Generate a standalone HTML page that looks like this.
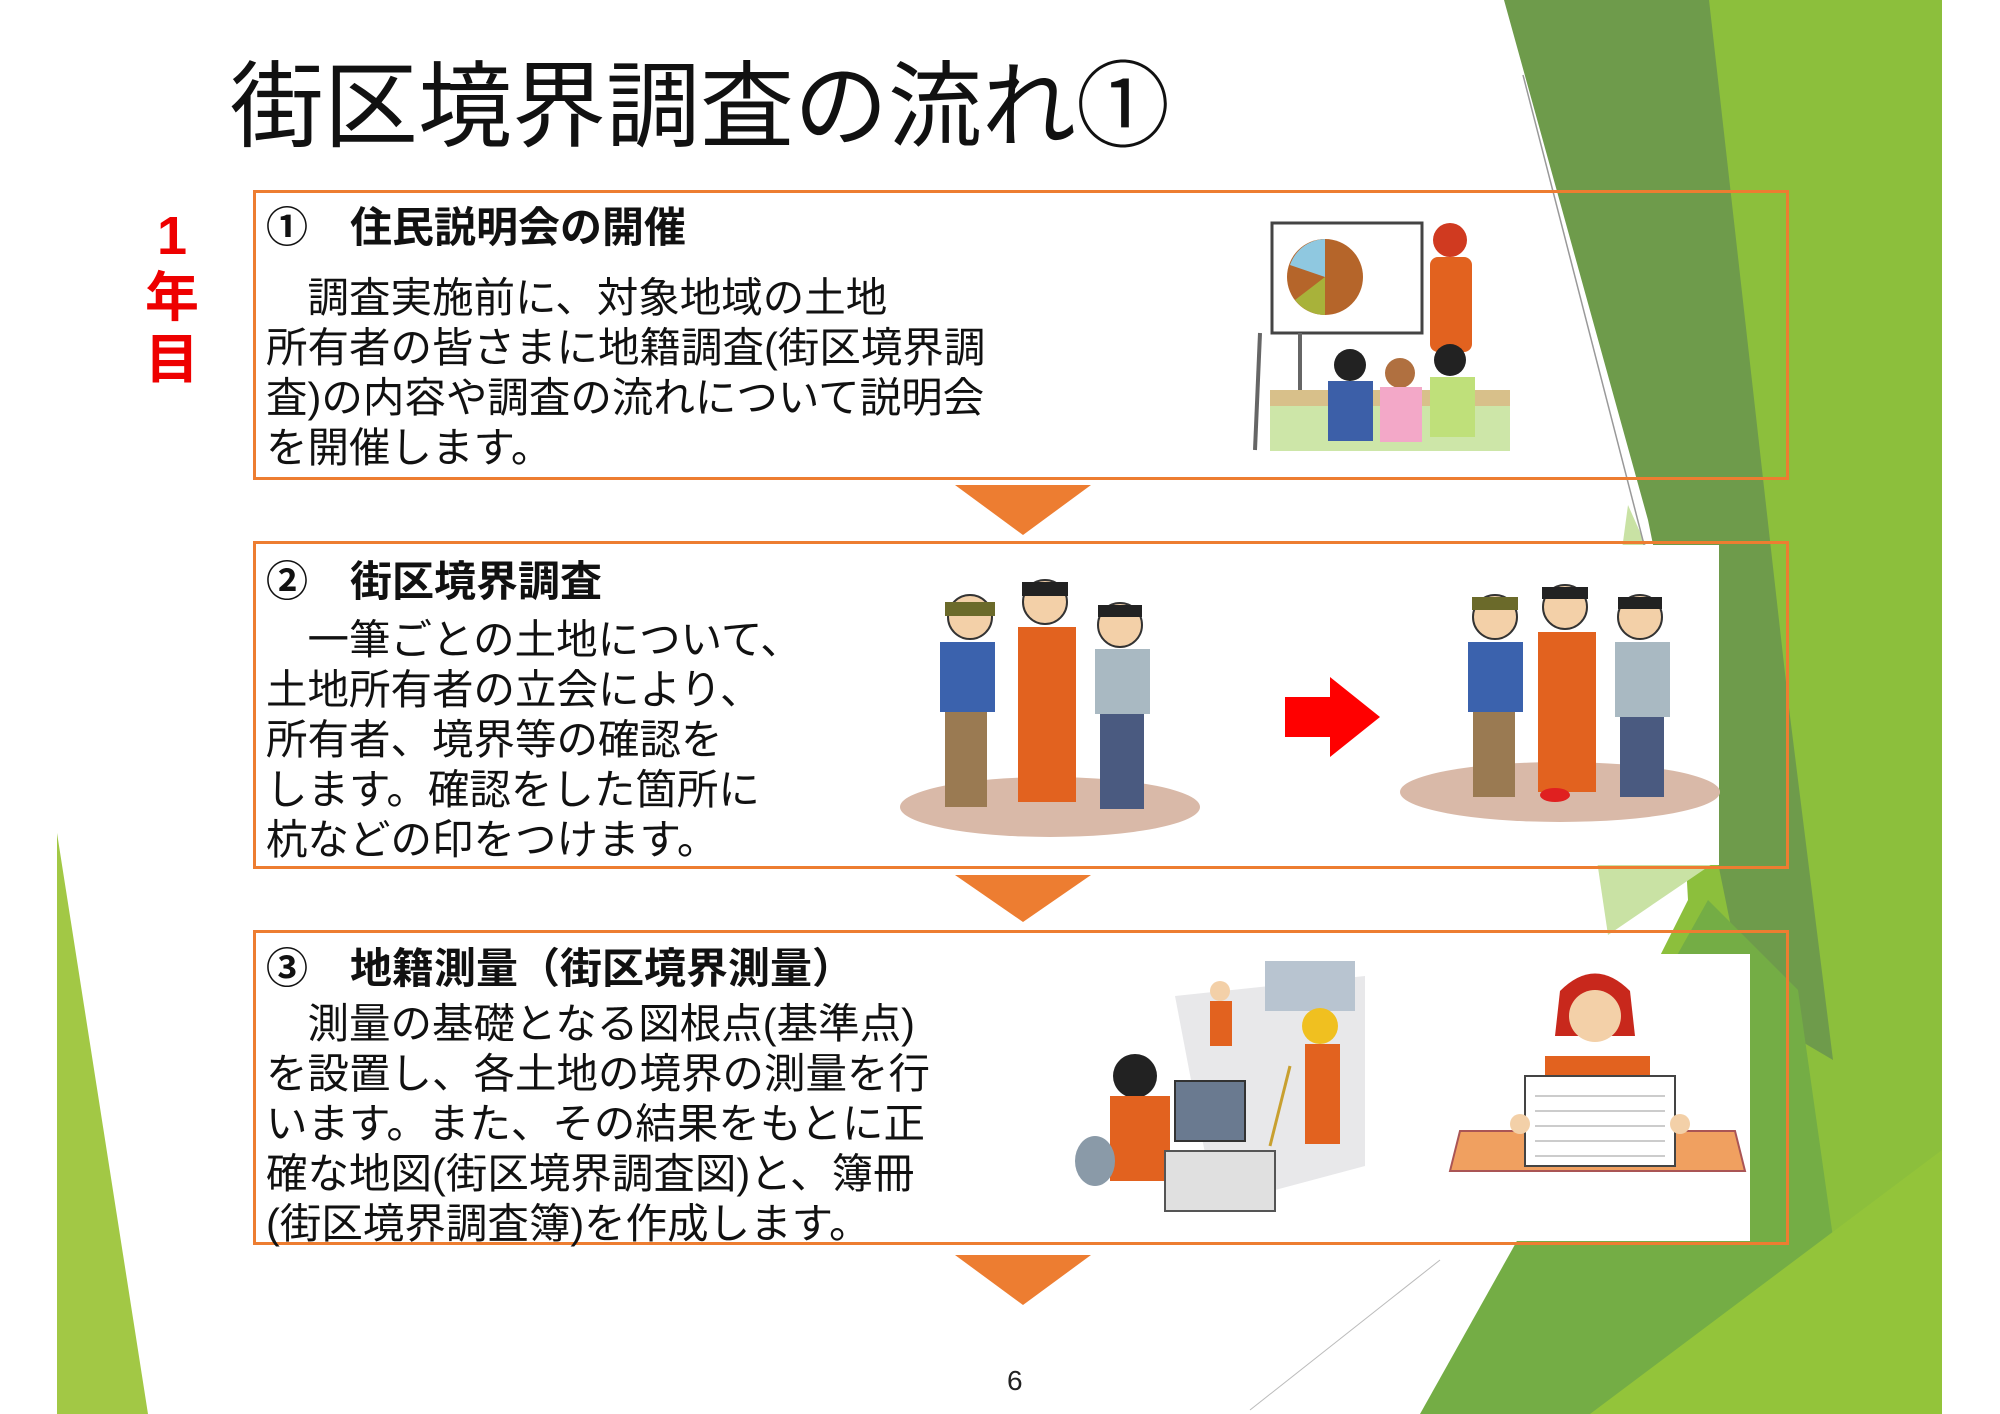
<!DOCTYPE html>
<html><head><meta charset="utf-8">
<style>
html,body{margin:0;padding:0;}
body{width:2000px;height:1414px;position:relative;overflow:hidden;background:#fff;font-family:"Liberation Sans","Noto Sans CJK JP",sans-serif;}
.a{position:absolute;white-space:nowrap;}
.box{position:absolute;border:3px solid #ed7d31;box-sizing:border-box;}
.h{position:absolute;font-size:42px;font-weight:bold;color:#111;line-height:1;}
.t{position:absolute;font-size:41.5px;color:#111;line-height:50px;white-space:nowrap;}
</style></head><body>
<svg class="a" style="left:0;top:0" width="2000" height="1414">
  <polygon points="1638,0 1942,0 1942,1414 1430,1414 1688,900" fill="#8cbf3c"/>
  <polygon points="1504,0 1709,0 1788,700 1833,1060 1748,1010 1648,520" fill="#6e9b4b"/>
  <polygon points="1628,505 1688,640 1718,860 1608,935 1588,800" fill="#c9e2a4"/>
  <polygon points="1420,1414 1708,900 1798,990 1858,1414" fill="#74ad45"/>
  <polygon points="1590,1414 1942,1150 1942,1414" fill="#93c43a"/>
  <polygon points="57,833 148,1414 57,1414" fill="#a2c845"/>
  <line x1="1523" y1="75" x2="1648" y2="560" stroke="#999" stroke-width="1.5"/>
  <line x1="1648" y1="560" x2="1678" y2="760" stroke="#999" stroke-width="1"/>
  <line x1="1250" y1="1410" x2="1440" y2="1260" stroke="#bbb" stroke-width="1"/>
</svg>

<div class="a" style="left:230px;top:60px;font-size:94px;color:#111;line-height:1;">街区境界調査の流れ①</div>
<div class="a" style="left:145px;top:205px;font-size:54px;font-weight:bold;color:#e00;line-height:62px;text-align:center;width:54px;white-space:normal;">1<br>年<br>目</div>

<!-- Box 1 -->
<div class="box" style="left:253px;top:190px;width:1536px;height:290px;"></div>
<div class="h" style="left:266px;top:207px;">①　住民説明会の開催</div>
<div class="t" style="left:266px;top:273px;">　調査実施前に、対象地域の土地<br>所有者の皆さまに地籍調査(街区境界調<br>査)の内容や調査の流れについて説明会<br>を開催します。</div>
<svg class="a" style="left:1250px;top:215px" width="280" height="245">
  <rect x="22" y="8" width="150" height="110" fill="#fff" stroke="#444" stroke-width="3"/>
  <circle cx="75" cy="62" r="38" fill="#b5652a"/><path d="M75 62 L40 50 A38 38 0 0 1 75 24Z" fill="#8fc8e0"/><path d="M75 62 L75 100 A38 38 0 0 1 45 85Z" fill="#a8b23a"/>
  <line x1="10" y1="118" x2="5" y2="235" stroke="#666" stroke-width="4"/><line x1="50" y1="118" x2="50" y2="200" stroke="#666" stroke-width="4"/>
  <circle cx="200" cy="25" r="17" fill="#d03a20"/><rect x="180" y="42" width="42" height="95" rx="8" fill="#e2621f"/>
  <rect x="20" y="175" width="240" height="16" fill="#d8c08a"/><rect x="20" y="191" width="240" height="45" fill="#cde6a8"/>
  <circle cx="100" cy="150" r="16" fill="#222"/><rect x="78" y="166" width="45" height="60" fill="#3c5fa8"/>
  <circle cx="150" cy="158" r="15" fill="#b07040"/><rect x="130" y="172" width="42" height="55" fill="#f3a8c8"/>
  <circle cx="200" cy="145" r="16" fill="#222"/><rect x="180" y="162" width="45" height="60" fill="#bfe07a"/>
</svg>

<svg class="a" style="left:955px;top:485px" width="136" height="50"><polygon points="0,0 136,0 68,50" fill="#ed7d31"/></svg>

<!-- Box 2 -->
<div class="box" style="left:253px;top:541px;width:1536px;height:328px;"></div>
<div class="a" style="left:899px;top:545px;width:820px;height:320px;background:#fff;"></div>
<div class="h" style="left:266px;top:561px;">②　街区境界調査</div>
<div class="t" style="left:266px;top:615px;">　一筆ごとの土地について、<br>土地所有者の立会により、<br>所有者、境界等の確認を<br>します。確認をした箇所に<br>杭などの印をつけます。</div>
<svg class="a" style="left:900px;top:557px" width="830" height="300">
  <ellipse cx="150" cy="250" rx="150" ry="30" fill="#d9b9a8"/>
  <ellipse cx="660" cy="235" rx="160" ry="30" fill="#d9b9a8"/>
  <g>
   <circle cx="70" cy="60" r="22" fill="#f3d0a8" stroke="#333" stroke-width="2"/><rect x="45" y="45" width="50" height="14" fill="#6b6a2a"/>
   <rect x="40" y="85" width="55" height="70" fill="#3b62ad"/><rect x="45" y="155" width="42" height="95" fill="#9a7a52"/>
   <circle cx="145" cy="45" r="22" fill="#f3d0a8" stroke="#333" stroke-width="2"/><rect x="122" y="25" width="46" height="14" fill="#222"/>
   <rect x="118" y="70" width="58" height="175" fill="#e2621f"/>
   <circle cx="220" cy="68" r="22" fill="#f3d0a8" stroke="#333" stroke-width="2"/><rect x="198" y="48" width="44" height="12" fill="#222"/>
   <rect x="195" y="92" width="55" height="65" fill="#a9b9c2"/><rect x="200" y="157" width="44" height="95" fill="#4a5a80"/>
  </g>
  <polygon points="385,140 430,140 430,120 480,160 430,200 430,180 385,180" fill="#f00"/>
  <g>
   <circle cx="595" cy="60" r="22" fill="#f3d0a8" stroke="#333" stroke-width="2"/><rect x="572" y="40" width="46" height="13" fill="#6b6a2a"/>
   <rect x="568" y="85" width="55" height="70" fill="#3b62ad"/><rect x="573" y="155" width="42" height="85" fill="#9a7a52"/>
   <circle cx="665" cy="50" r="22" fill="#f3d0a8" stroke="#333" stroke-width="2"/><rect x="642" y="30" width="46" height="12" fill="#222"/>
   <rect x="638" y="75" width="58" height="160" fill="#e2621f"/>
   <circle cx="740" cy="60" r="22" fill="#f3d0a8" stroke="#333" stroke-width="2"/><rect x="718" y="40" width="44" height="12" fill="#222"/>
   <rect x="715" y="85" width="55" height="75" fill="#a9b9c2"/><rect x="720" y="160" width="44" height="80" fill="#4a5a80"/>
   <ellipse cx="655" cy="238" rx="15" ry="7" fill="#e02020"/>
  </g>
</svg>

<svg class="a" style="left:955px;top:875px" width="136" height="47"><polygon points="0,0 136,0 68,47" fill="#ed7d31"/></svg>

<!-- Box 3 -->
<div class="box" style="left:253px;top:930px;width:1536px;height:315px;"></div>
<div class="a" style="left:1060px;top:954px;width:690px;height:287px;background:#fff;"></div>
<div class="h" style="left:266px;top:948px;">③　地籍測量（街区境界測量）</div>
<div class="t" style="left:266px;top:999px;">　測量の基礎となる図根点(基準点)<br>を設置し、各土地の境界の測量を行<br>います。また、その結果をもとに正<br>確な地図(街区境界調査図)と、簿冊<br>(街区境界調査簿)を作成します。</div>
<svg class="a" style="left:1065px;top:956px" width="700" height="290">
  <polygon points="110,40 300,20 300,210 150,250" fill="#e8e8ea"/>
  <rect x="200" y="5" width="90" height="50" fill="#b8c4d0"/>
  <circle cx="155" cy="35" r="10" fill="#f3d0a8"/><rect x="145" y="45" width="22" height="45" fill="#e2621f"/>
  <circle cx="255" cy="70" r="18" fill="#f0c020"/><rect x="240" y="88" width="35" height="100" fill="#e2621f"/>
  <line x1="225" y1="110" x2="205" y2="190" stroke="#c8a030" stroke-width="3"/>
  <circle cx="70" cy="120" r="22" fill="#222"/><rect x="45" y="140" width="60" height="85" fill="#e2621f"/>
  <rect x="110" y="125" width="70" height="60" fill="#6a7a90" stroke="#333" stroke-width="2"/>
  <rect x="100" y="195" width="110" height="60" fill="#e0e0e0" stroke="#555" stroke-width="2"/>
  <ellipse cx="30" cy="205" rx="20" ry="25" fill="#8a9aa8"/>
  <path d="M495 35 Q530 0 565 35 L570 80 L490 80Z" fill="#c8281c"/>
  <circle cx="530" cy="60" r="26" fill="#f3d0a8"/>
  <rect x="480" y="100" width="105" height="30" fill="#e2621f"/>
  <polygon points="395,175 670,175 680,215 385,215" fill="#f0a060" stroke="#a55" stroke-width="2"/>
  <rect x="460" y="120" width="150" height="90" fill="#fff" stroke="#444" stroke-width="2"/>
  <g stroke="#999" stroke-width="1"><line x1="470" y1="140" x2="600" y2="140"/><line x1="470" y1="155" x2="600" y2="155"/><line x1="470" y1="170" x2="600" y2="170"/><line x1="470" y1="185" x2="600" y2="185"/><line x1="470" y1="200" x2="600" y2="200"/></g>
  <circle cx="455" cy="168" r="10" fill="#f3d0a8"/><circle cx="615" cy="168" r="10" fill="#f3d0a8"/>
</svg>

<svg class="a" style="left:955px;top:1255px" width="136" height="50"><polygon points="0,0 136,0 68,50" fill="#ed7d31"/></svg>

<div class="a" style="left:1007px;top:1367px;font-size:28px;color:#222;line-height:1;">6</div>
</body></html>
